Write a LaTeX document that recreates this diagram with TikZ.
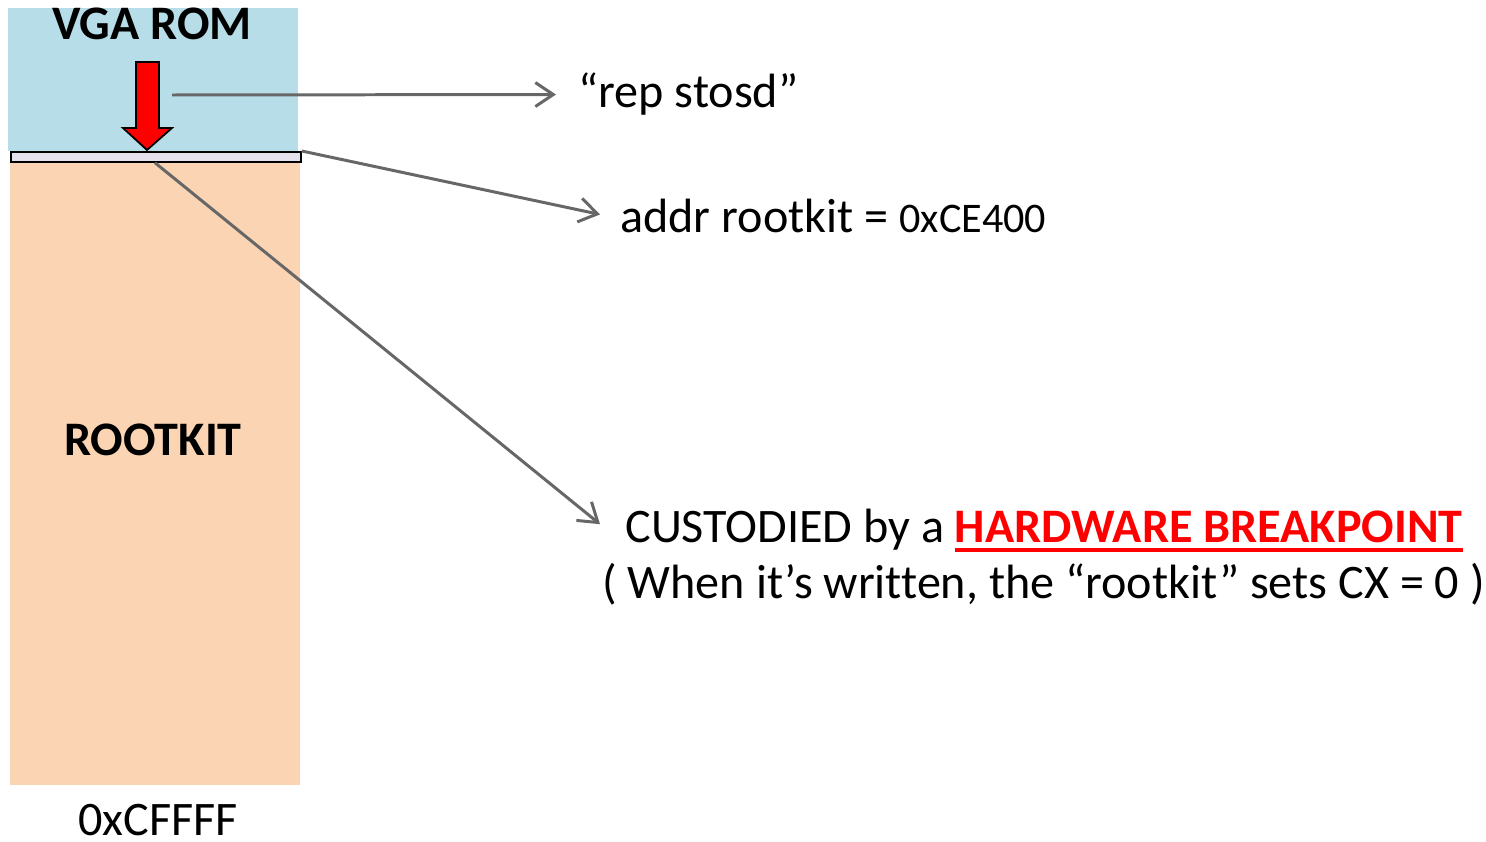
\documentclass[tikz,border=0pt]{standalone}
\usepackage{fontspec}
\setmainfont[Ligatures=NoCommon]{Carlito}
\usepackage{tikz}
\usetikzlibrary{arrows.meta}
\usetikzlibrary{calc}
\definecolor{romblue}{HTML}{B6DDE8}
\definecolor{kitpeach}{HTML}{FBD4B4}
\definecolor{barlilac}{HTML}{E6E0EC}
\definecolor{linegray}{HTML}{676767}

\begin{document}
\begin{tikzpicture}[x=0.02cm,y=-0.02cm,inner sep=0pt,font=\fontsize{27.4}{32}\selectfont,
  ptr/.style={draw=linegray,line width=1.7pt,-{Straight Barb[length=3.6mm,width=4.8mm,line width=1.7pt]}},
  lbl/.style={anchor=base west}]
\useasboundingbox (0,0) rectangle (1486,841);
\fill [romblue] (8,8) rectangle (298,151);
\fill [kitpeach] (10,161) rectangle (300,785);
\draw node [draw,line width=1pt,fill=barlilac,minimum width=290*0.02cm,minimum height=10*0.02cm,anchor=north west] (bar) at (10,151) {};
\draw [fill=red,line width=1pt] (136,62) -- (159,62) -- (159,128) -- (172,128) -- (147,150) -- (123,128) -- (136,128) -- cycle;
\draw node [anchor=base] (rom) at (152,40) {\bfseries VGA ROM};
\draw node [anchor=base] (kit) at (153,455) {\bfseries ROOTKIT};
\draw node [anchor=base,text depth=0pt] (end) at (158,835) {0xCFFFF};
\draw node [lbl] (rep) at (578,108) {“rep stosd”};
\draw node [lbl] (addr) at (620,233) {addr rootkit = {\fontsize{24}{28}\selectfont 0xCE400}};
\draw node [lbl] (cust) at (625,542) {CUSTODIED by a};
\draw node [anchor=base west,text=red] (hwbp) at ($(cust.base east)+(10,0)$) {\bfseries HARDWARE BREAKPOINT};
\draw node [lbl] (note) at (602,598) {( When it’s written, the “rootkit” sets CX = 0 )};
\coordinate (src) at (172,95);
\draw [red,line width=2.2pt] ($(hwbp.base west)+(0,8)$) -- ($(hwbp.base east)+(0,8)$);
\draw [ptr] (src) -- ($(rep.west)+(-22,0)$);
\draw [ptr] (bar.north east) -- ($(addr.west)+(-20,-2)$);
\draw [ptr] ($(bar.south west)+(145,0)$) -- ($(cust.west)+(-25,-5)$);
\end{tikzpicture}
\end{document}
